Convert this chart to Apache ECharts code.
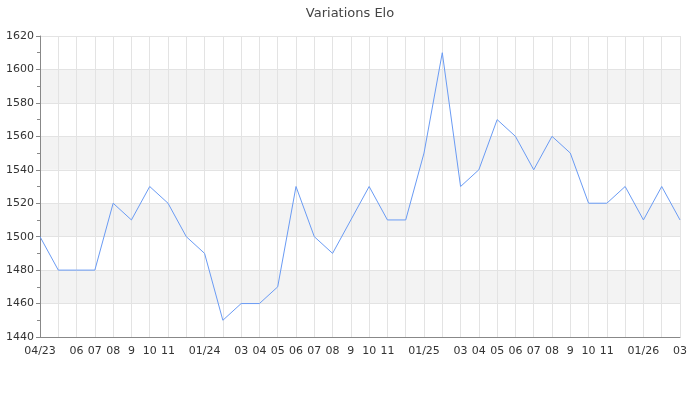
<!DOCTYPE html>
<html><head><meta charset="utf-8">
<script src="https://cdn.jsdelivr.net/npm/echarts@6/dist/echarts.min.js"></script>
<style>html,body{margin:0;padding:0;background:#fff}#c{width:700px;height:400px}</style>
</head><body><div id="c"></div>
<script>
const months = ["04/23","05","06","07","08","9","10","11","12","01/24","02","03","04","05","06","07","08","9","10","11","12","01/25","02","03","04","05","06","07","08","9","10","11","12","01/26","02","03"];
const hiddenLabels = [1,8,10,20,22,32,34];
const elo = [1500,1480,1480,1480,1520,1510,1530,1520,1500,1490,1450,1460,1460,1470,1530,1500,1490,1510,1530,1510,1510,1550,1610,1530,1540,1570,1560,1540,1560,1550,1520,1520,1530,1510,1530,1510];
const yTicks = [1440,1460,1480,1500,1520,1540,1560,1580,1600,1620];

const font = 'DejaVu Sans';
const chart = echarts.init(document.getElementById('c'), null, {renderer:'canvas'});
chart.setOption({
  animation:false,
  title:{text:'Variations Elo', left:'center', top:2, textStyle:{fontFamily:font, fontSize:13, fontWeight:'normal', color:'#444'}},
  grid:{left:40, right:20, top:36, bottom:63, containLabel:false},
  xAxis:{type:'category', data:months, boundaryGap:false,
    axisLine:{lineStyle:{color:'#888'}}, axisTick:{show:false},
    axisLabel:{interval:0, fontFamily:font, fontSize:11, color:'#333', margin:9,
      formatter:(v,i)=> hiddenLabels.includes(i)?'':v},
    splitLine:{show:true, interval:0, lineStyle:{color:'#e3e3e3'}}},
  yAxis:{type:'value', min:yTicks[0], max:yTicks[yTicks.length-1], interval:20,
    axisLine:{show:true, lineStyle:{color:'#888'}},
    axisTick:{show:true, length:4, lineStyle:{color:'#888'}},
    minorTick:{show:true, splitNumber:2, length:3, lineStyle:{color:'#888'}},
    axisLabel:{fontFamily:font, fontSize:11, color:'#333', margin:6, formatter:v=>String(v)},
    splitLine:{show:true, lineStyle:{color:'#e3e3e3'}},
    splitArea:{show:true, areaStyle:{color:['#ffffff','#f3f3f3']}}},
  series:[{type:'line', data:elo, showSymbol:false, symbol:'none',
    lineStyle:{color:'#6a9bf4', width:1}, itemStyle:{color:'#6a9bf4'}}]
});
</script></body></html>
